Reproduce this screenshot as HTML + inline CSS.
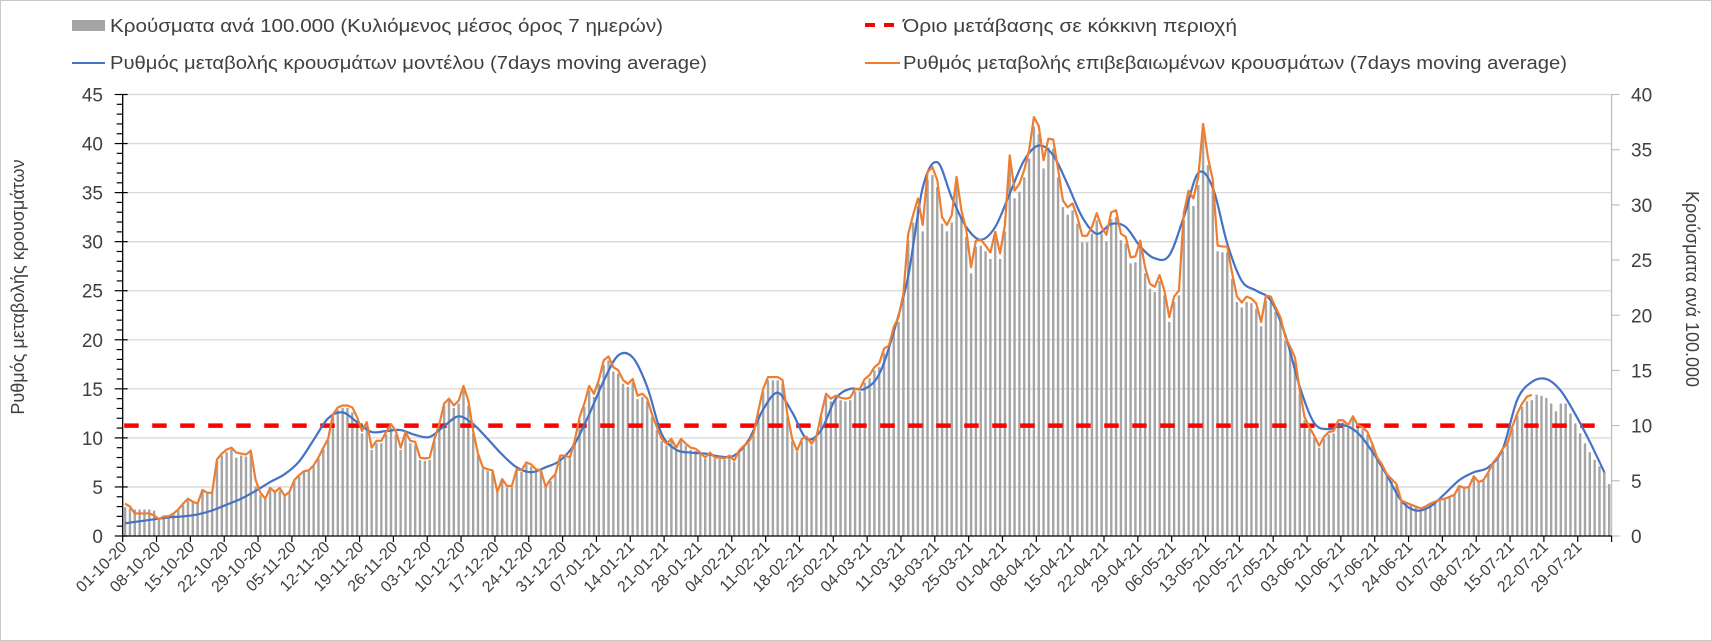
<!DOCTYPE html>
<html><head><meta charset="utf-8">
<style>
html,body{margin:0;padding:0;background:#fff;}
svg{display:block;font-family:"Liberation Sans","DejaVu Sans",sans-serif;}
</style></head>
<body>
<svg id="chart" width="1712" height="641" viewBox="0 0 1712 641" xmlns="http://www.w3.org/2000/svg">
  <rect x="0.5" y="0.5" width="1711" height="640" fill="#fff" stroke="#c8c8c8"/>
  <g id="grid"></g>
  <g id="bars"></g>
  <g id="threshold"></g>
  <g id="lines"></g>
  <g id="axes"></g>
  <g font-size="18" fill="#404040">
    <rect x="72" y="20" width="33" height="11" fill="#a5a5a5"/>
    <text x="110" y="32" textLength="553" lengthAdjust="spacingAndGlyphs">Κρούσματα ανά 100.000 (Κυλιόμενος μέσος όρος 7 ημερών)</text>
    <line x1="72" y1="63" x2="105" y2="63" stroke="#4472c4" stroke-width="2"/>
    <text x="110" y="69" textLength="597" lengthAdjust="spacingAndGlyphs">Ρυθμός μεταβολής κρουσμάτων μοντέλου (7days moving average)</text>
    <line x1="865" y1="25" x2="901" y2="25" stroke="#ff0000" stroke-width="4" stroke-dasharray="10,9"/>
    <text x="903" y="32" textLength="334" lengthAdjust="spacingAndGlyphs">Όριο μετάβασης σε κόκκινη περιοχή</text>
    <line x1="865" y1="63" x2="900" y2="63" stroke="#ed7d31" stroke-width="2"/>
    <text x="903" y="69" textLength="664" lengthAdjust="spacingAndGlyphs">Ρυθμός μεταβολής επιβεβαιωμένων κρουσμάτων (7days moving average)</text>
  </g>
  <text transform="translate(24,287) rotate(-90)" text-anchor="middle" font-size="18" fill="#404040">Ρυθμός μεταβολής κρουσμάτων</text>
  <text transform="translate(1686,289) rotate(90)" text-anchor="middle" font-size="18" fill="#404040">Κρούσματα ανά 100.000</text>
</svg>
<script>
const xTickLabels = ["01-10-20","08-10-20","15-10-20","22-10-20","29-10-20","05-11-20","12-11-20","19-11-20","26-11-20","03-12-20","10-12-20","17-12-20","24-12-20","31-12-20","07-01-21","14-01-21","21-01-21","28-01-21","04-02-21","11-02-21","18-02-21","25-02-21","04-03-21","11-03-21","18-03-21","25-03-21","01-04-21","08-04-21","15-04-21","22-04-21","29-04-21","06-05-21","13-05-21","20-05-21","27-05-21","03-06-21","10-06-21","17-06-21","24-06-21","01-07-21","08-07-21","15-07-21","22-07-21","29-07-21"];
const leftTicks = [0,5,10,15,20,25,30,35,40,45];
const rightTicks = [0,5,10,15,20,25,30,35,40];
const thresholdValue = 10;
const totalDays = 308;
// bars: cases per 100k (right axis), daily
const casesPer100k = [
2.6,2.5,2.4,2.4,2.4,2.4,2.3,1.6,1.8,1.9,
2.0,2.3,2.8,3.2,3.1,2.9,4.0,3.9,3.9,6.8,
7.3,7.6,7.8,7.1,7.3,7.2,7.6,4.5,3.7,3.4,
4.2,4.0,4.1,3.6,3.9,5.0,5.4,5.8,5.9,6.3,
7.0,7.9,8.7,10.8,11.4,11.6,11.6,11.2,10.3,9.3,
10.0,7.8,8.4,8.4,9.2,9.8,9.2,7.8,9.2,8.4,
8.2,6.9,6.8,6.9,8.6,9.9,11.8,12.3,11.6,12.0,
13.2,11.8,9.3,7.3,6.1,5.9,5.8,4.0,5.0,4.4,
4.4,5.9,5.8,6.5,6.3,5.9,5.8,4.4,5.0,5.5,
7.1,7.1,7.0,8.4,10.5,11.7,13.2,12.6,13.8,15.5,
15.9,14.9,14.7,13.8,13.5,13.9,12.4,12.6,12.2,10.8,
9.6,8.6,8.2,8.6,7.8,8.6,8.2,7.8,7.7,7.4,
7.0,7.4,7.0,7.0,6.9,7.1,6.7,7.6,8.0,8.4,
9.1,11.1,13.1,14.1,14.1,14.1,13.8,10.8,8.6,7.6,
8.6,8.8,8.2,8.8,10.8,12.6,12.2,12.4,12.3,12.2,
12.3,13.1,13.1,13.9,14.3,15.0,15.3,16.6,16.9,18.6,
19.4,21.5,26.8,28.4,29.9,27.6,32.3,32.7,31.6,28.3,
27.6,28.4,31.8,28.9,27.1,23.8,26.2,26.3,25.8,25.1,
27.0,25.1,27.6,33.8,30.6,31.2,32.5,34.2,37.1,36.4,
33.3,35.2,35.1,32.5,29.8,29.1,29.5,28.3,26.6,26.6,
27.4,28.6,27.4,26.7,28.7,28.9,26.8,26.5,24.7,24.8,
26.2,23.8,22.4,22.1,23.1,21.8,19.4,21.2,21.8,28.6,
30.6,29.9,31.8,36.5,33.6,31.6,25.8,25.7,25.7,23.3,
21.2,20.7,21.2,21.1,20.6,19.0,21.3,21.2,20.3,19.4,
17.7,16.8,15.8,12.9,10.5,9.7,8.9,8.0,8.8,9.2,
9.3,10.3,10.3,9.8,10.6,9.8,9.7,9.2,8.2,7.0,
6.4,5.5,5.0,4.6,3.1,3.0,2.8,2.6,2.4,2.6,
2.9,3.0,3.2,3.3,3.5,3.7,4.4,4.3,4.4,5.3,
4.8,5.0,5.7,6.5,7.0,7.7,8.3,9.7,10.9,11.7,
12.2,12.3,12.8,12.7,12.5,12.0,11.3,12.0,12.0,11.1,
10.2,9.3,8.4,7.6,6.9,6.3,5.8,4.7];
// orange: confirmed-case change rate (left axis), daily
const confirmedRate = [
3.3,3.0,2.3,2.3,2.3,2.3,2.1,1.7,2.0,2.0,
2.3,2.7,3.3,3.8,3.5,3.3,4.7,4.4,4.4,7.8,
8.4,8.8,9.0,8.5,8.4,8.3,8.7,5.7,4.4,3.8,
4.9,4.5,4.9,4.1,4.5,5.7,6.2,6.6,6.7,7.2,
8.0,9.0,9.9,12.4,13.1,13.3,13.3,13.1,12.1,10.7,
11.6,9.0,9.7,9.7,10.6,11.4,10.7,9.0,10.6,9.7,
9.6,8.0,7.9,8.0,9.9,11.4,13.5,14.0,13.3,13.8,
15.3,13.8,10.7,8.4,7.0,6.8,6.7,4.5,5.8,5.1,
5.1,6.8,6.7,7.5,7.3,6.8,6.7,5.0,5.8,6.3,
8.2,8.2,8.0,9.7,12.1,13.5,15.3,14.5,15.9,17.9,
18.3,17.2,16.9,15.9,15.5,16.0,14.3,14.5,14.0,12.4,
11.1,9.9,9.4,9.9,9.0,9.9,9.4,9.0,8.9,8.5,
8.0,8.5,8.0,8.0,7.9,8.2,7.7,8.7,9.2,9.6,
10.4,12.8,15.0,16.2,16.2,16.2,15.9,12.4,9.9,8.7,
9.9,10.1,9.4,10.1,12.4,14.5,14.0,14.3,14.1,14.0,
14.1,15.0,15.0,16.0,16.4,17.2,17.6,19.1,19.4,21.3,
22.3,24.7,30.8,32.7,34.4,31.7,37.1,37.6,36.3,32.5,
31.7,32.7,36.6,33.2,31.2,27.4,30.1,30.2,29.6,28.9,
31.0,28.8,31.7,38.8,35.2,35.9,37.3,39.3,42.7,41.8,
38.3,40.5,40.4,37.4,34.2,33.5,33.9,32.5,30.6,30.6,
31.5,32.9,31.5,30.7,33.0,33.2,30.8,30.5,28.4,28.5,
30.1,27.4,25.7,25.4,26.6,25.0,22.3,24.4,25.0,32.9,
35.2,34.4,36.6,42.0,38.6,36.3,29.6,29.5,29.5,26.8,
24.4,23.8,24.4,24.2,23.7,21.8,24.5,24.4,23.3,22.3,
20.3,19.3,18.2,14.8,12.1,11.1,10.2,9.2,10.1,10.6,
10.7,11.8,11.8,11.3,12.2,11.3,11.1,10.6,9.4,8.0,
7.3,6.3,5.8,5.3,3.6,3.4,3.2,3.0,2.8,3.0,
3.3,3.5,3.7,3.8,4.0,4.2,5.1,4.9,5.0,6.1,
5.5,5.7,6.5,7.5,8.1,8.9,9.5,11.2,12.5,13.5,
14.2,14.4];
// blue: model change rate (left axis), sampled every 3 days
const modelStep = 3;
const modelRate = [
1.3,1.5,1.7,1.9,2.0,2.2,2.6,3.2,3.8,4.6,
5.5,6.3,7.6,9.8,12.0,12.6,11.6,10.6,10.7,10.8,
10.3,10.1,11.2,12.2,11.4,9.9,8.3,7.0,6.5,7.0,
7.7,9.4,12.4,15.8,18.4,18.2,15.2,10.4,8.8,8.5,
8.4,8.1,8.2,9.8,12.9,14.6,12.6,9.9,10.8,14.0,
15.0,15.0,16.5,20.8,26.5,35.5,38.1,34.5,31.5,30.2,
31.5,34.9,38.3,39.8,38.8,35.8,32.5,30.8,31.8,31.5,
29.5,28.3,28.6,32.5,37.0,35.5,29.8,26.0,25.0,24.0,
20.5,15.2,11.5,10.9,11.3,10.5,8.6,6.2,3.6,2.6,
3.0,4.3,5.7,6.5,7.0,8.9,13.9,15.7,16.0,14.8,
12.4,9.6,6.5];

const NS = "http://www.w3.org/2000/svg";
const X0 = 122.7, DAYW = 4.834, Y0 = 536;
const LEFT_MAX = 45, RIGHT_MAX = 40, PLOT_H = 441.5;
const xEdge = d => X0 + DAYW * d;
const xC = d => X0 + DAYW * (d + 0.5);
const yL = v => Y0 - v * PLOT_H / LEFT_MAX;
const yR = v => Y0 - v * PLOT_H / RIGHT_MAX;
const XEND = xEdge(totalDays);
function mk(tag, attrs, parent) {
  const e = document.createElementNS(NS, tag);
  for (const k in attrs) e.setAttribute(k, attrs[k]);
  parent.appendChild(e);
  return e;
}
const grid = document.getElementById('grid');
leftTicks.forEach(v => {
  if (v === 0) return;
  const l = mk('line', {x1: X0, x2: XEND, y1: yL(v), y2: yL(v), stroke: '#d9d9d9', 'stroke-width': 1.3}, grid);
  
  
});
const barsG = document.getElementById('bars');
casesPer100k.forEach((v, d) => {
  const r = mk('rect', {x: xC(d) - 1.2, y: yR(v), width: 2.4, height: Y0 - yR(v), fill: '#a5a5a5'}, barsG);
  
  
});
const th = document.getElementById('threshold');
const tl = mk('line', {x1: X0 + 1.5, x2: xC(totalDays - 3), y1: yR(thresholdValue), y2: yR(thresholdValue), stroke: '#ff0000', 'stroke-width': 4.5, 'stroke-dasharray': '14.5,13.5'}, th);


const linesG = document.getElementById('lines');
// blue smooth (Catmull-Rom)
const bp = modelRate.map((v, i) => [xC(i * modelStep), yL(v)]);
let dStr = 'M' + bp[0][0] + ',' + bp[0][1];
for (let i = 0; i < bp.length - 1; i++) {
  const p0 = bp[Math.max(0, i - 1)], p1 = bp[i], p2 = bp[i + 1], p3 = bp[Math.min(bp.length - 1, i + 2)];
  const c1 = [p1[0] + (p2[0] - p0[0]) / 6, p1[1] + (p2[1] - p0[1]) / 6];
  const c2 = [p2[0] - (p3[0] - p1[0]) / 6, p2[1] - (p3[1] - p1[1]) / 6];
  dStr += ' C' + c1.join(',') + ' ' + c2.join(',') + ' ' + p2.join(',');
}
const blue = mk('path', {d: dStr, fill: 'none', stroke: '#4472c4', 'stroke-width': 2.2}, linesG);


const orange = mk('polyline', {points: confirmedRate.map((v, d) => xC(d) + ',' + yL(v)).join(' '), fill: 'none', stroke: '#ed7d31', 'stroke-width': 2.2, 'stroke-linejoin': 'round'}, linesG);


// axes
const ax = document.getElementById('axes');
const la = mk('line', {x1: X0, x2: X0, y1: yL(45), y2: Y0, stroke: '#000', 'stroke-width': 1.3}, ax);


for (let v = 0; v <= 45; v++) {
  const major = v % 5 === 0;
  mk('line', {x1: major ? X0 - 8 : X0 - 6, x2: major ? X0 + 5 : X0, y1: yL(v), y2: yL(v), stroke: '#000', 'stroke-width': 1.2}, ax);
}
leftTicks.forEach(v => {
  const t = mk('text', {x: 103, y: yL(v) + 7, 'text-anchor': 'end', 'font-size': 19, fill: '#404040'}, ax);
  t.textContent = v;
  
  
});
const ra = mk('line', {x1: XEND, x2: XEND, y1: yR(40), y2: Y0, stroke: '#bfbfbf', 'stroke-width': 1.3}, ax);


rightTicks.forEach(v => {
  mk('line', {x1: XEND, x2: XEND + 8, y1: yR(v), y2: yR(v), stroke: '#bfbfbf', 'stroke-width': 1.2}, ax);
  const t = mk('text', {x: 1631, y: yR(v) + 7, 'font-size': 19, fill: '#404040'}, ax);
  t.textContent = v;
  
  
});
const xa = mk('line', {x1: X0, x2: XEND, y1: Y0, y2: Y0, stroke: '#000', 'stroke-width': 1.3}, ax);


for (let d = 0; d <= totalDays; d += 7) {
  mk('line', {x1: xEdge(d), x2: xEdge(d), y1: Y0, y2: Y0 + 6, stroke: '#000', 'stroke-width': 1.2}, ax);
}
xTickLabels.forEach((lab, i) => {
  const x = xEdge(i * 7) + 5, y = Y0 + 12;
  const t = mk('text', {x: x, y: y, 'text-anchor': 'end', 'font-size': 16, fill: '#404040', transform: 'rotate(-45 ' + x + ' ' + y + ')'}, ax);
  t.textContent = lab;
  
  
});
</script>
</body></html>
